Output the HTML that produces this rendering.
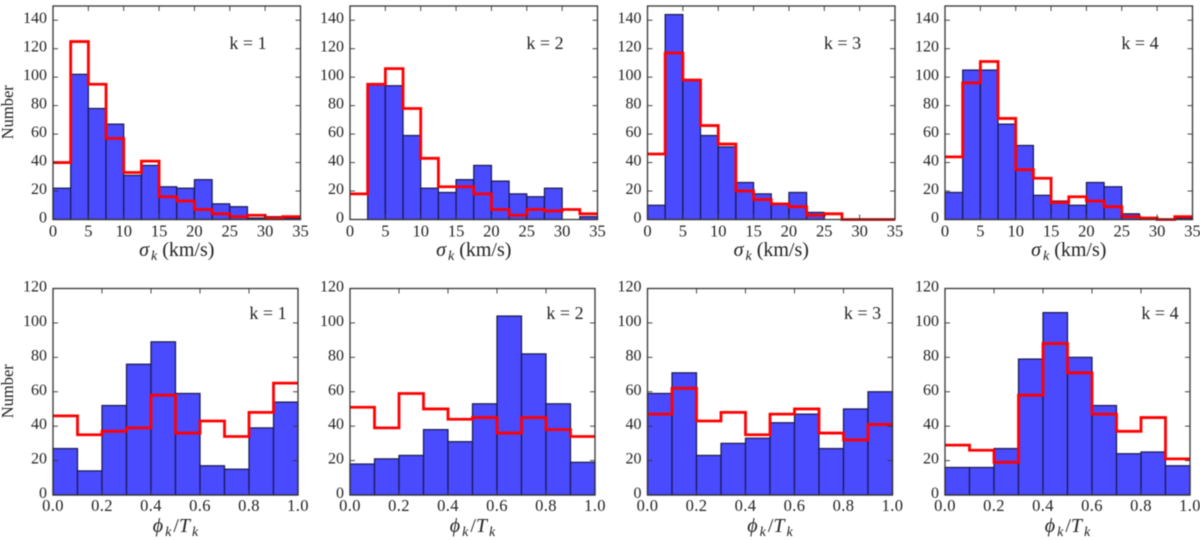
<!DOCTYPE html>
<html>
<head>
<meta charset="utf-8">
<title>Histograms of sigma and phase</title>
<style>
html,body{margin:0;padding:0;background:#fff;}
#chart{display:block;width:1200px;height:540px;filter:blur(0.45px);}
text{font-family:"Liberation Serif",serif;fill:#222;}
</style>
</head>
<body>
<svg id="chart" xmlns="http://www.w3.org/2000/svg" width="1200" height="540" viewBox="0 0 1200 540"></svg>
<script>
const sigmaTicks = [0,5,10,15,20,25,30,35];
const sigmaCountTicks = [0,20,40,60,80,100,120,140];
const phaseTicks = ["0.0","0.2","0.4","0.6","0.8","1.0"];
const phaseCountTicks = [0,20,40,60,80,100,120];
const panelLabels = ["k = 1","k = 2","k = 3","k = 4"];

const sigmaBlue1 = [22,102,78,67,31,38,23,22,28,11,9,1,2,1];
const sigmaRed1  = [40,125,95,57,33,41,16,13,7,4,2,3,1,2];
const sigmaBlue2 = [0,95,94,59,22,19,28,38,27,18,16,22,0,2];
const sigmaRed2  = [18,95,106,78,43,23,23,18,7,3,7,6,7,4];
const sigmaBlue3 = [10,144,98,59,51,26,18,11,19,5,0,0,0,0];
const sigmaRed3  = [46,117,98,66,53,20,14,11,9,3,4,0,0,0];
const sigmaBlue4 = [19,105,105,67,52,17,13,10,26,23,4,1,0,1];
const sigmaRed4  = [44,96,111,71,35,29,12,16,13,9,2,1,0,2];

const phaseBlue1 = [27,14,52,76,89,59,17,15,39,54];
const phaseRed1  = [46,35,37,39,58,36,43,34,48,65];
const phaseBlue2 = [18,21,23,38,31,53,104,82,53,19];
const phaseRed2  = [51,39,59,50,44,45,36,45,38,34];
const phaseBlue3 = [59,71,23,30,33,42,47,27,50,60];
const phaseRed3  = [47,62,43,48,35,47,50,36,32,41];
const phaseBlue4 = [16,16,27,79,106,80,52,24,25,17];
const phaseRed4  = [29,26,19,58,88,71,47,37,45,21];

const sigmaBlue = [sigmaBlue1,sigmaBlue2,sigmaBlue3,sigmaBlue4];
const sigmaRed = [sigmaRed1,sigmaRed2,sigmaRed3,sigmaRed4];
const phaseBlue = [phaseBlue1,phaseBlue2,phaseBlue3,phaseBlue4];
const phaseRed = [phaseRed1,phaseRed2,phaseRed3,phaseRed4];

const NS = "http://www.w3.org/2000/svg";
const root = document.getElementById("chart");

function make(tag, parent, attrs, txt){
  const el = document.createElementNS(NS, tag);
  for (const k in attrs) el.setAttribute(k, attrs[k]);
  if (txt !== undefined) el.textContent = txt;
  parent.appendChild(el);
  return el;
}

function axisLabel(g, x, y, parts, name){
  const t = make("text", g, {x:x, y:y, "text-anchor":"middle", "font-size":20});
  
  
  parts.forEach(function(p){
    const s = make("tspan", t, p.attrs || {}, p.s);
    if (p.italic) s.setAttribute("font-style", "italic");
  });
}

function drawPanel(cfg){
  const g = make("g", root, {});
  
  
  const xOf = function(v){ return cfg.left + (v - cfg.xMin) / (cfg.xMax - cfg.xMin) * (cfg.right - cfg.left); };
  const yOf = function(v){ return cfg.bottom - v / cfg.yMax * (cfg.bottom - cfg.top); };
  const n = cfg.blue.length;
  const binW = (cfg.xMax - cfg.xMin) / n;

  cfg.blue.forEach(function(v, i){
    if (v <= 0) return;
    const x0 = xOf(cfg.xMin + i * binW), x1 = xOf(cfg.xMin + (i + 1) * binW);
    const bar = make("rect", g, {x:x0, y:yOf(v), width:x1 - x0, height:yOf(0) - yOf(v), fill:"#4a4aff", stroke:"#181848", "stroke-width":1.2});
    
    
  });

  let d = "";
  cfg.red.forEach(function(v, i){
    const x0 = xOf(cfg.xMin + i * binW), x1 = xOf(cfg.xMin + (i + 1) * binW);
    d += (i === 0 ? "M" : "L") + x0 + " " + yOf(v) + " L" + x1 + " " + yOf(v) + " ";
  });
  const step = make("path", g, {d:d, fill:"none", stroke:"#ff0000", "stroke-width":2.8, "stroke-linejoin":"miter"});
  
  

  const frame = make("rect", g, {x:cfg.left, y:cfg.top, width:cfg.right - cfg.left, height:cfg.bottom - cfg.top, fill:"none", stroke:"#333", "stroke-width":1.3});
  
  

  cfg.xTicks.forEach(function(tv){
    const x = xOf(Number(tv));
    make("line", g, {x1:x, x2:x, y1:cfg.bottom, y2:cfg.bottom - 5, stroke:"#333", "stroke-width":0.9});
    make("line", g, {x1:x, x2:x, y1:cfg.top, y2:cfg.top + 5, stroke:"#333", "stroke-width":0.9});
    const lab = make("text", g, {x:x, y:cfg.bottom + cfg.tickGap, "text-anchor":"middle", "font-size":16.5, "letter-spacing":cfg.tickSpacing}, String(tv));
    
    
  });
  cfg.yTicks.forEach(function(tv){
    const y = yOf(tv);
    make("line", g, {x1:cfg.left, x2:cfg.left + 5, y1:y, y2:y, stroke:"#333", "stroke-width":0.9});
    make("line", g, {x1:cfg.right, x2:cfg.right - 5, y1:y, y2:y, stroke:"#333", "stroke-width":0.9});
    const lab = make("text", g, {x:cfg.left - 6, y:y + 3, "text-anchor":"end", "font-size":16}, String(tv));
    
    
  });

  const k = make("text", g, {x:cfg.kx, y:cfg.ky, "text-anchor":"middle", "font-size":18}, cfg.label);
  
  

  axisLabel(g, (cfg.left + cfg.right) / 2 + cfg.labelShift, cfg.xLabelY, cfg.xLabelParts, 'x-axis-title');

  if (cfg.showY){
    const cy = (cfg.top + cfg.bottom) / 2 - 0.5;
    const yt = make("text", g, {x:0, y:0, transform:"translate(13," + cy + ") rotate(-90)", "text-anchor":"middle", "font-size":16.5}, "Number");
    
    
  }
}

const sub = {"font-size":14, dy:4, dx:2};
const unsub = {dy:-4};
const sigmaLabel = [
  {s:"\u03C3", italic:true},
  {s:"k", italic:true, attrs:sub},
  {s:" (km/s)", attrs:unsub}
];
const phaseLabel = [
  {s:"\u03D5", italic:true},
  {s:"k", italic:true, attrs:sub},
  {s:"/", attrs:{dy:-4, dx:2}},
  {s:"T", italic:true},
  {s:"k", italic:true, attrs:sub}
];

const topLefts = [53,350,647.5,945];
const bottomLefts = [53,350,647.5,945];

topLefts.forEach(function(left, i){
  drawPanel({
    name:"sigma-panel-" + (i + 1),
    left:left, right:left + 247.5, top:6, bottom:219.5,
    xMin:0, xMax:35, yMax:150,
    xTicks:sigmaTicks, yTicks:sigmaCountTicks,
    tickGap:17, tickSpacing:0,
    blue:sigmaBlue[i], red:sigmaRed[i],
    label:panelLabels[i], kx:left + 195, ky:49,
    xLabelY:256, xLabelParts:sigmaLabel, labelShift:0, showY:i === 0
  });
});
bottomLefts.forEach(function(left, i){
  drawPanel({
    name:"phase-panel-" + (i + 1),
    left:left, right:left + 245, top:288.5, bottom:495,
    xMin:0, xMax:1, yMax:120,
    xTicks:phaseTicks, yTicks:phaseCountTicks,
    tickGap:16, tickSpacing:0.4,
    blue:phaseBlue[i], red:phaseRed[i],
    label:panelLabels[i], kx:left + 215, ky:319,
    xLabelY:532, xLabelParts:phaseLabel, labelShift:0, showY:i === 0
  });
});
</script>
</body>
</html>
